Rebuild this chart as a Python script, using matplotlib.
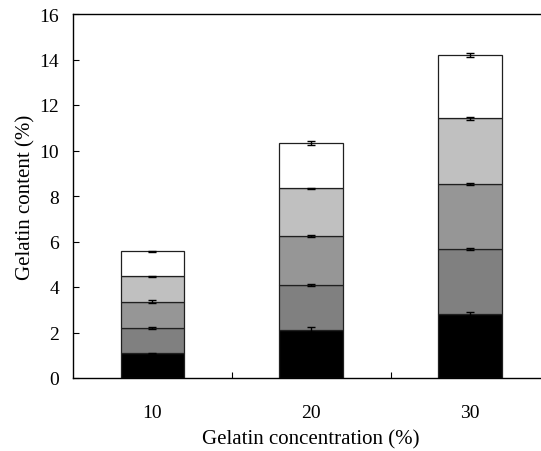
import matplotlib
matplotlib.use("Agg")
import matplotlib.pyplot as plt
import numpy as np

categories = ["10", "20", "30"]
seg1 = [1.09, 2.12, 2.81]
seg2 = [1.11, 1.98, 2.86]
seg3 = [1.16, 2.13, 2.87]
seg4 = [1.11, 2.11, 2.87]
seg5 = [1.10, 1.99, 2.79]
err1 = [0.03, 0.10, 0.10]
err2 = [0.05, 0.05, 0.05]
err3 = [0.05, 0.05, 0.04]
err4 = [0.03, 0.03, 0.05]
err5 = [0.03, 0.08, 0.08]
colors = ["#000000", "#808080", "#969696", "#c0c0c0", "#ffffff"]

plt.rcParams['font.family'] = ['Liberation Serif', 'DejaVu Serif']

fig = plt.figure(figsize=(5.41, 4.52), dpi=100)
ax = fig.add_axes([73/541, 73/452, (549.5-73)/541, (379-15)/452])

x = np.arange(len(categories))
segs = [seg1, seg2, seg3, seg4, seg5]
errs = [err1, err2, err3, err4, err5]
bottom = np.zeros(len(categories))
for s, e, c in zip(segs, errs, colors):
    s = np.array(s)
    ax.bar(x, s, width=0.40, bottom=bottom, color=c, edgecolor="#202020", linewidth=0.9, zorder=2)
    top = bottom + s
    ax.errorbar(x, top, yerr=e, fmt="none", ecolor="black", elinewidth=1, capsize=3, capthick=1, zorder=3)
    bottom = top

ax.set_xlim(-0.5, 2.5)
ax.set_ylim(0, 16)
ax.set_yticks(np.arange(0, 17, 2))
ax.set_xticks(x)
ax.set_xticklabels(categories)
ax.set_xticks([0.5, 1.5], minor=True)
ax.tick_params(axis='x', which='major', length=0, pad=19, labelsize=14)
ax.tick_params(axis='x', which='minor', direction='in', length=4, width=0.8)
ax.tick_params(axis='y', direction='in', length=4, width=0.8, pad=10, labelsize=14)
ax.spines['right'].set_visible(False)
for sp in ['left', 'bottom', 'top']:
    ax.spines[sp].set_linewidth(1.0)
ax.set_xlabel("Gelatin concentration (%)", fontsize=15, labelpad=6)
ax.set_ylabel("Gelatin content (%)", fontsize=15, labelpad=3)

fig.savefig("out.png", dpi=100)
